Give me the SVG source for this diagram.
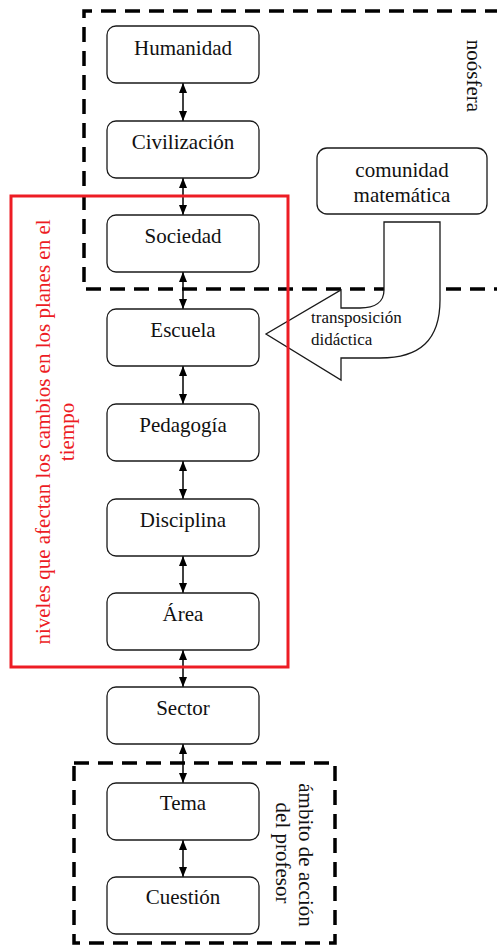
<svg xmlns="http://www.w3.org/2000/svg" width="497" height="947" viewBox="0 0 497 947">
  <style>
    text { font-family: 'Liberation Serif', 'DejaVu Serif', serif; }
    .box { fill: #ffffff; stroke: #1a1a1a; stroke-width: 1.3; }
    .lbl { font-size: 21px; fill: #111111; }
    .mid { text-anchor: middle; }
    .small { font-size: 17px; fill: #111111; }
    .red { font-size: 21px; fill: #ed1c24; text-anchor: middle; }
    .dash { fill: none; stroke: #000000; stroke-width: 3.5; stroke-dasharray: 15 9; }
    .link { stroke: #000000; stroke-width: 1.5; marker-start: url(#head); marker-end: url(#head); }
  </style>
  <defs>
    <marker id="head" viewBox="0 0 10 8" refX="10" refY="4" markerWidth="10" markerHeight="8" markerUnits="userSpaceOnUse" orient="auto-start-reverse">
      <path d="M0,0 L10,4 L0,8 z" fill="#000000"/>
    </marker>
  </defs>

  <rect width="497" height="947" fill="#ffffff"/>

  <!-- regions -->
  <g id="noosfera">
    <path class="dash" d="M 500 11 L 84 11 L 84 289 L 500 289"/>
    <text class="lbl mid" font-family="Liberation Serif, serif" transform="translate(467,76) rotate(90)">noósfera</text>
  </g>
  <g id="ambito-profesor">
    <rect class="dash" x="74" y="763" width="261" height="180"/>
    <text class="lbl mid" transform="translate(299,855) rotate(90)">ámbito de acción</text>
    <text class="lbl mid" transform="translate(276,853) rotate(90)">del profesor</text>
  </g>

  <!-- connectors -->
  <g id="connectors">
    <line class="link" x1="183" y1="83" x2="183" y2="121"/>
    <line class="link" x1="183" y1="178" x2="183" y2="215"/>
    <line class="link" x1="183" y1="272" x2="183" y2="309"/>
    <line class="link" x1="183" y1="366" x2="183" y2="404"/>
    <line class="link" x1="183" y1="461" x2="183" y2="499"/>
    <line class="link" x1="183" y1="556" x2="183" y2="593"/>
    <line class="link" x1="183" y1="650" x2="183" y2="687"/>
    <line class="link" x1="183" y1="744" x2="183" y2="783"/>
    <line class="link" x1="183" y1="840" x2="183" y2="877"/>
  </g>

  <!-- levels -->
  <g id="humanidad"><rect class="box" x="107" y="26" width="152" height="57" rx="9"/><text class="lbl mid" x="183" y="55">Humanidad</text></g>
  <g id="civilizacion"><rect class="box" x="107" y="121" width="152" height="57" rx="9"/><text class="lbl mid" x="183" y="149">Civilización</text></g>
  <g id="sociedad"><rect class="box" x="107" y="215" width="152" height="57" rx="9"/><text class="lbl mid" x="183" y="243">Sociedad</text></g>
  <g id="escuela"><rect class="box" x="107" y="309" width="152" height="57" rx="9"/><text class="lbl mid" x="183" y="337">Escuela</text></g>
  <g id="pedagogia"><rect class="box" x="107" y="404" width="152" height="57" rx="9"/><text class="lbl mid" x="183" y="432">Pedagogía</text></g>
  <g id="disciplina"><rect class="box" x="107" y="499" width="152" height="57" rx="9"/><text class="lbl mid" x="183" y="527">Disciplina</text></g>
  <g id="area"><rect class="box" x="107" y="593" width="152" height="57" rx="9"/><text class="lbl mid" x="183" y="621">Área</text></g>
  <g id="sector"><rect class="box" x="107" y="687" width="152" height="57" rx="9"/><text class="lbl mid" x="183" y="715">Sector</text></g>
  <g id="tema"><rect class="box" x="107" y="783" width="152" height="57" rx="9"/><text class="lbl mid" x="183" y="810">Tema</text></g>
  <g id="cuestion"><rect class="box" x="107" y="877" width="152" height="57" rx="9"/><text class="lbl mid" x="183" y="904">Cuestión</text></g>

  <g id="comunidad-matematica">
    <rect class="box" x="317" y="148" width="170" height="66" rx="10"/>
    <text class="lbl mid" x="402" y="177">comunidad</text>
    <text class="lbl mid" x="402" y="202">matemática</text>
  </g>

  <!-- bent block arrow -->
  <g id="transposicion">
    <path d="M 384 222 L 440 222 L 440 300 C 440 340 420 358 380 358 L 341 358 L 341 380 L 266 334 L 341 290 L 341 308 L 360 308 C 375 308 384 302 384 290 Z" fill="#ffffff" stroke="#1a1a1a" stroke-width="1.3"/>
    <text class="small" x="311" y="323">transposición</text>
    <text class="small" x="311" y="345">didáctica</text>
  </g>

  <g id="niveles-cambios">
    <rect x="11" y="196" width="277" height="471" fill="none" stroke="#ed1c24" stroke-width="3"/>
    <text class="red" transform="translate(50,432) rotate(-90)">niveles que afectan los cambios en los planes en el</text>
    <text class="red" transform="translate(74,432) rotate(-90)">tiempo</text>
  </g>
</svg>
